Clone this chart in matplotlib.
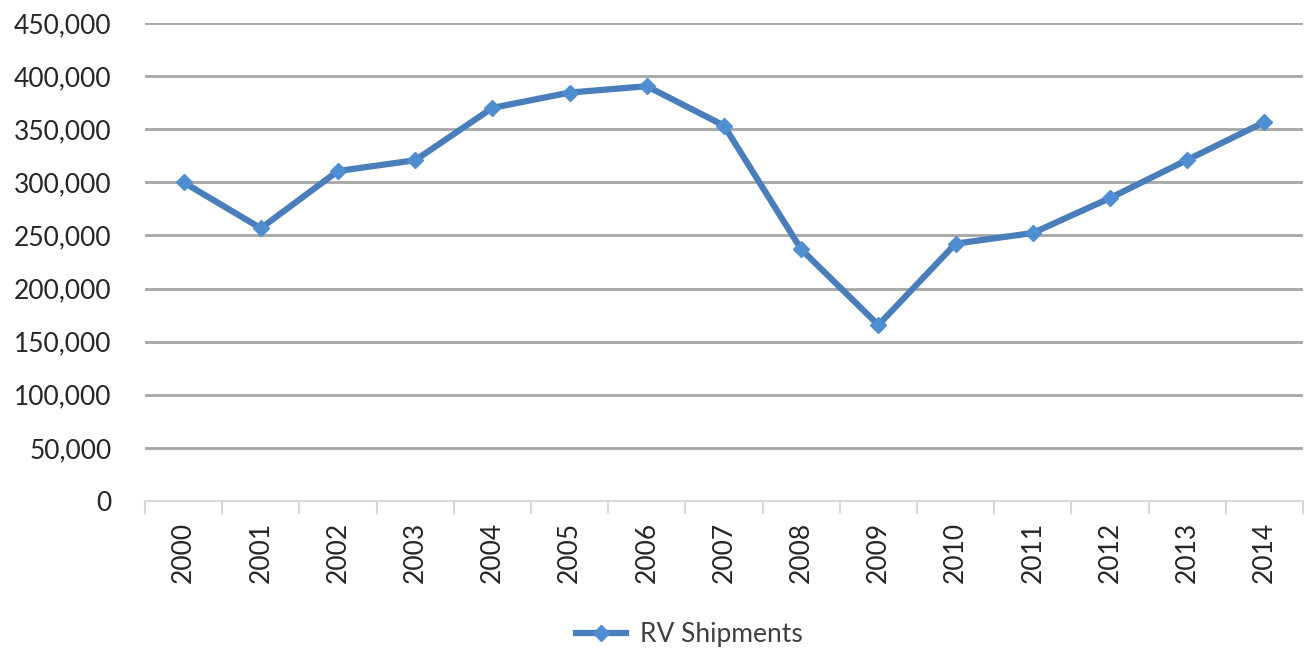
import matplotlib
matplotlib.use("Agg")
import matplotlib.pyplot as plt
from matplotlib.ticker import FuncFormatter, MultipleLocator

years = [str(y) for y in range(2000, 2015)]
shipments = [300000, 256800, 310700, 320800, 370100, 384500, 390500, 353400,
             237000, 165700, 242300, 252300, 285200, 321100, 356700]

plt.rcParams['font.family'] = ['Lato', 'DejaVu Sans']

fig = plt.figure(figsize=(13.04, 6.5), dpi=100)
ax = fig.add_axes([0.1112, 0.2292, 0.888, 0.7354])

x = list(range(len(years)))
ax.plot(x, shipments, color='#4a7ebb', linewidth=4.5, marker='D',
        markersize=8, markerfacecolor='#4f8ed0', markeredgecolor='#4f8ed0',
        label='RV Shipments', zorder=3)

ax.set_xlim(-0.5, len(years) - 0.5)
ax.set_ylim(0, 450000)
ax.yaxis.set_major_locator(MultipleLocator(50000))
ax.yaxis.set_major_formatter(FuncFormatter(lambda v, p: f"{int(v):,}"))
ax.grid(axis='y', color='#a6a6a6', linewidth=2)
ax.set_axisbelow(True)

# category labels centered, tick marks between categories
ax.set_xticks(x)
ax.set_xticklabels(years, rotation=90, fontsize=19, color='#262626')
ax.tick_params(axis='x', length=0, pad=15)
ax.set_xticks([i - 0.5 for i in range(len(years) + 1)], minor=True)
ax.tick_params(axis='x', which='minor', length=9, width=1.5, color='#d9d9d9')
ax.tick_params(axis='y', length=0, pad=24, labelsize=19, labelcolor='#262626')

for side in ['top', 'right', 'left']:
    ax.spines[side].set_visible(False)
ax.spines['bottom'].set_color('#d9d9d9')
ax.spines['bottom'].set_linewidth(1.5)

leg = ax.legend(loc='center', bbox_to_anchor=(0.47, -0.28), frameon=False,
                fontsize=19, handlelength=1.9, handletextpad=0.5)
for t in leg.get_texts():
    t.set_color('#404040')

fig.savefig('out.png', dpi=100)
